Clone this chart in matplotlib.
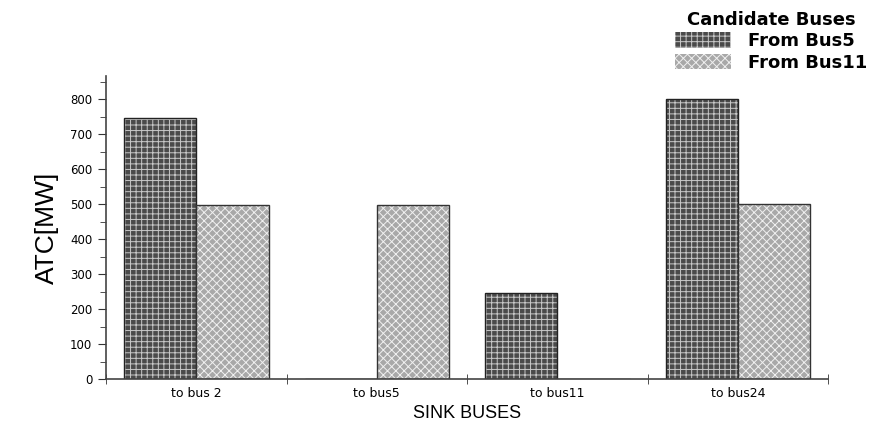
import numpy as np
import matplotlib.pyplot as plt
from matplotlib.patches import Patch
from matplotlib.ticker import MultipleLocator

plt.rcParams['font.family'] = ['DejaVu Sans']
plt.rcParams['hatch.linewidth'] = 0.7

categories = ['to bus 2', 'to bus5', 'to bus11', 'to bus24']
from_bus5 = [745, 0, 245, 800]
from_bus11 = [497, 497, 0, 500]

x = np.arange(len(categories))
w = 0.4

fig = plt.figure(figsize=(8.84, 4.25), dpi=100)
ax = fig.add_axes([0.12, 0.108, 0.8167, 0.713])

# textured bars: filled hatch layer, then a dark outline on top
ax.bar(x - w / 2, from_bus5, w, color='#4a4a4a', edgecolor='#c8c8c8', hatch='+++', linewidth=0)
ax.bar(x - w / 2, from_bus5, w, fill=False, edgecolor='#222222', linewidth=1.0)
ax.bar(x + w / 2, from_bus11, w, color='#a8a8a8', edgecolor='#f0f0f0', hatch='xxxx', linewidth=0)
ax.bar(x + w / 2, from_bus11, w, fill=False, edgecolor='#333333', linewidth=1.0)

ax.set_xlim(-0.5, 3.5)
ax.set_ylim(0, 866)
ax.spines['top'].set_visible(False)
ax.spines['right'].set_visible(False)
ax.spines['left'].set_color('#444444')
ax.spines['bottom'].set_color('#444444')
ax.spines['left'].set_linewidth(1.2)
ax.spines['bottom'].set_linewidth(1.2)

ax.yaxis.set_major_locator(MultipleLocator(100))
ax.yaxis.set_minor_locator(MultipleLocator(50))
ax.tick_params(axis='y', which='major', length=6, labelsize=8.5, color='#333333', pad=4)
ax.tick_params(axis='y', which='minor', length=4, color='#333333')

ax.set_xticks(x)
ax.set_xticklabels(categories)
ax.set_xticks(np.arange(len(categories) + 1) - 0.5, minor=True)
ax.tick_params(axis='x', which='major', length=0, labelsize=9, pad=6)
ax.tick_params(axis='x', which='minor', direction='inout', length=7, color='#333333')

ax.set_ylabel('ATC[MW]', fontsize=19, labelpad=8, family='Liberation Sans')
ax.set_xlabel('SINK BUSES', fontsize=13, labelpad=3, family='Liberation Sans')

handles = [
    Patch(facecolor='#4a4a4a', edgecolor='#c8c8c8', hatch='+++', linewidth=0),
    Patch(facecolor='#a8a8a8', edgecolor='#f0f0f0', hatch='xxxx', linewidth=0),
]
leg = fig.legend(handles, ['From Bus5', 'From Bus11'], title='Candidate Buses',
                 loc='upper right', bbox_to_anchor=(0.995, 1.005), frameon=False,
                 prop={'size': 13, 'weight': 'bold'}, title_fontsize=13,
                 handlelength=3.1, handleheight=0.95, handletextpad=0.9,
                 labelspacing=0.2, borderpad=0.2)
leg.get_title().set_fontweight('bold')

fig.savefig('out.png', dpi=100)
